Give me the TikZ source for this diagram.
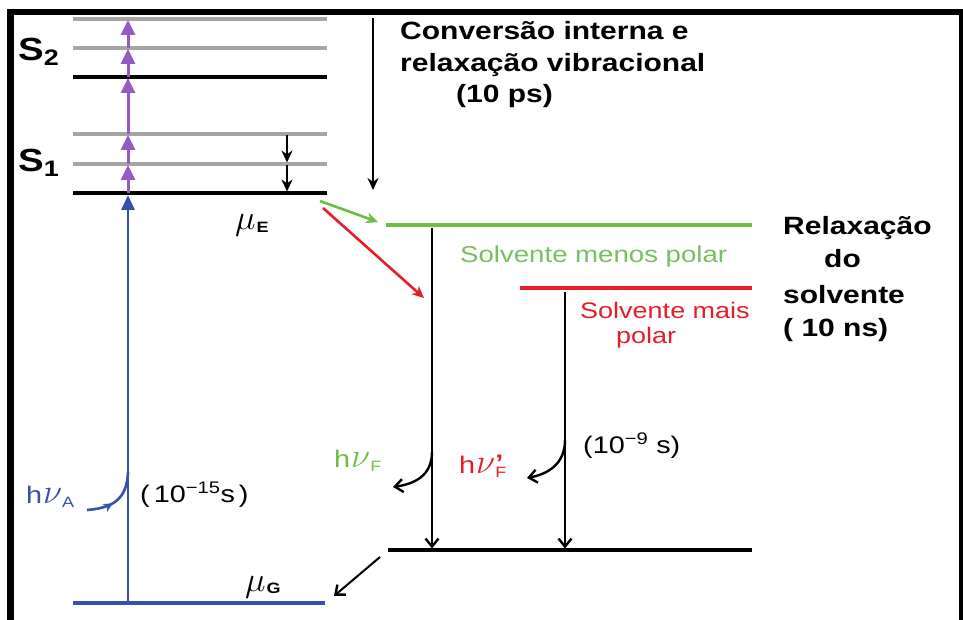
\RequirePackage{fix-cm}
\documentclass[tikz,border=0pt]{standalone}
\usepackage{fontspec}
\setmainfont{Liberation Sans}[FakeStretch=1.2]
\usetikzlibrary{arrows.meta,decorations.markings}
\definecolor{levgray}{RGB}{165,165,165}
\definecolor{absblue}{RGB}{55,80,170}
\definecolor{pumppurple}{RGB}{150,90,195}
\definecolor{lessgreen}{RGB}{110,190,70}
\definecolor{moregreen}{RGB}{120,190,100}
\definecolor{morered}{RGB}{228,30,40}
\newcommand{\hnu}[1]{h\kern1pt\scalebox{1.45}{$\nu$}#1}
\newcommand{\mulab}[1]{{\fontsize{24}{24}\selectfont\scalebox{1.45}{$\mu$}}\kern1pt\raisebox{-2pt}{\fontsize{15}{15}\selectfont\bfseries #1}}

\begin{document}
\begin{tikzpicture}[
    x=1pt, y=-1pt,
    level/.style={line width=3.2pt},
    pump/.style={line width=3pt, draw=pumppurple, shorten >=1pt, -{Triangle[length=15pt,width=14pt]}},
    absorb/.style={line width=2.8pt, draw=absblue, shorten >=2pt, -{Triangle[length=15pt,width=13pt]}},
    arr/.style={line width=2.4pt, -{Stealth[length=12pt,width=11pt]}},
    barb/.style={line width=2.4pt, -{Straight Barb[length=8pt,width=13pt,line width=2.4pt]}},
    bigtext/.style={font=\fontsize{25}{30}\selectfont\bfseries, inner sep=0pt, anchor=base west},
    smalltext/.style={font=\fontsize{23}{28}\selectfont, inner sep=0pt, anchor=base west},
    hvtext/.style={font=\fontsize{24}{28}\selectfont, inner sep=0pt, anchor=base west},
]
    \useasboundingbox (0,0) rectangle (963,620);

    % frame
    \fill[black] (7,9) rectangle (963,15);
    \fill[black] (7,9) rectangle (14,620);
    \fill[black] (959,9) rectangle (963,620);

    % S2 / S1 levels and ground state
    \foreach \y/\c in {19/levgray, 48/levgray, 77/black, 134/levgray, 164/levgray, 193/black}
        \draw[level, draw=\c] (73,\y) -- (327,\y);
    \draw[level, draw=absblue] (73,603) -- (325,603);

    % points on the absorption ladder
    \foreach \n/\y in {0/193, 1/164, 2/134, 3/77, 4/48, 5/19}
        \coordinate (v\n) at (128,\y);
    \coordinate (g0) at (128,603);

    % absorption and vibrational ladder
    \draw[absorb] (g0) -- (v0);
    \foreach \a/\b in {0/1, 1/2, 2/3, 3/4, 4/5}
        \draw[pump] (v\a) -- (v\b);

    % vibrational relaxation in S1
    \coordinate (c2) at (287,134);
    \coordinate (c1) at (287,164);
    \coordinate (c0) at (287,193);
    \draw[arr, shorten <=1pt, shorten >=1.5pt] (c2) -- (c1);
    \draw[arr, shorten <=1pt, shorten >=1.5pt] (c1) -- (c0);

    % internal conversion
    \coordinate (ictop) at (373,18);
    \coordinate (icbot) at (373,190);
    \draw[arr] (ictop) -- (icbot);

    % solvent relaxed levels
    \coordinate (gl) at (386,225);  \coordinate (gr) at (752,225);
    \coordinate (rl) at (520,288);  \coordinate (rr) at (752,288);
    \coordinate (bl) at (388,550);  \coordinate (br) at (752,550);
    \draw[level, draw=lessgreen] (gl) -- (gr);
    \draw[level, draw=morered] (rl) -- (rr);
    \draw[level] (bl) -- (br);

    % relaxation arrows from S1
    \coordinate (eg) at (320,201);  \coordinate (egtip) at (378,222);
    \coordinate (er) at (323,208);  \coordinate (ertip) at (424,298);
    \draw[arr, draw=lessgreen, line width=2.6pt] (eg) -- (egtip);
    \draw[arr, draw=morered, line width=2.6pt] (er) -- (ertip);

    % emission
    \coordinate (f1top) at (432,228);  \coordinate (f1bot) at (432,550);
    \coordinate (f2top) at (565,292);  \coordinate (f2bot) at (565,550);
    \draw[barb, shorten >=1.5pt] (f1top) -- (f1bot);
    \draw[barb, shorten >=1.5pt] (f2top) -- (f2bot);
    \coordinate (f1c) at (432,452);  \coordinate (f1out) at (393,487);
    \coordinate (f2c) at (565,440);  \coordinate (f2out) at (527,478);
    \draw[barb] (f1c) .. controls (432,476) and (414,484) .. (f1out);
    \draw[barb] (f2c) .. controls (565,464) and (548,474) .. (f2out);

    % photon in
    \coordinate (hvin) at (87,510);  \coordinate (hvjoin) at (128,472);
    \draw[absblue, line width=2.6pt, postaction={decorate},
        decoration={markings, mark=at position 0.42 with {\arrow{Stealth[length=9pt,width=9pt]}}}]
        (hvin) .. controls (112,508) and (127,500) .. (hvjoin);

    % back to ground state
    \coordinate (bk) at (380,557);  \coordinate (bktip) at (334,596);
    \draw[barb, line width=2pt] (bk) -- (bktip);

    % labels, left
    \node[font=\fontsize{32}{32}\selectfont\bfseries, inner sep=0pt, anchor=base west] (s2lab) at (18,61) {S\textsubscript{2}};
    \node[font=\fontsize{32}{32}\selectfont\bfseries, inner sep=0pt, anchor=base west] (s1lab) at (18,172) {S\textsubscript{1}};
    \node[inner sep=0pt, anchor=base west] (muE) at (235,230) {\mulab{E}};
    \node[inner sep=0pt, anchor=base west] (muG) at (245,591) {\mulab{G}};
    \node[hvtext, text=absblue] (hvA) at (26,503)
        {\hnu{\raisebox{-4pt}{\fontsize{15}{15}\selectfont A}}};
    \node[smalltext, font=\fontsize{24}{28}\selectfont] (tabs) at (140,502) {(\,10\textsuperscript{−15}s\,)};

    % labels, emission
    \node[hvtext, text=lessgreen] (hvF) at (334,467)
        {\hnu{\raisebox{-4pt}{\fontsize{15}{15}\selectfont F}}};
    \node[hvtext, text=morered] (hvFp) at (459,473)
        {\hnu{\rlap{\raisebox{2pt}{\fontsize{24}{24}\selectfont\bfseries ’}}\raisebox{-4pt}{\fontsize{15}{15}\selectfont F}}};
    \node[smalltext, font=\fontsize{24}{28}\selectfont] (tfl) at (583,453) {(10\textsuperscript{−9} s)};

    % solvent labels
    \node[smalltext, text=moregreen] (lesspol) at (460,262) {Solvente menos polar};
    \node[smalltext, font=\fontsize{22.5}{28}\selectfont, text=morered] (morepol1) at (580,318) {Solvente mais};
    \node[smalltext, font=\fontsize{22.5}{28}\selectfont, text=morered] (morepol2) at (616,343) {polar};

    % process labels
    \node[bigtext] (conv1) at (400,40)  {Conversão interna e};
    \node[bigtext] (conv2) at (400,72)  {relaxação vibracional};
    \node[bigtext] (conv3) at (456,103) {(10 ps)};
    \node[bigtext] (relax1) at (783,235) {Relaxação};
    \node[bigtext] (relax2) at (824,268) {do};
    \node[bigtext] (relax3) at (783,303) {solvente};
    \node[bigtext] (relax4) at (783,336) {( 10 ns)};
\end{tikzpicture}
\end{document}
